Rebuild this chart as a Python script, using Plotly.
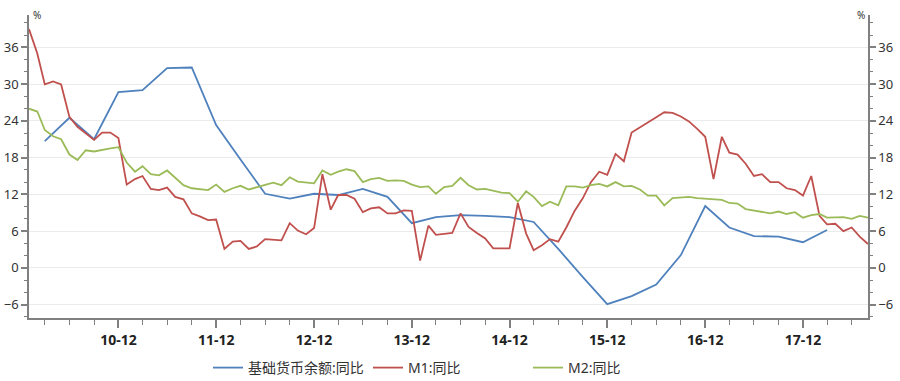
import pandas as pd
import plotly.graph_objects as go

# ---- data ----
months = pd.date_range("2010-01-01", periods=104, freq="MS")
quarters = pd.date_range("2010-03-01", periods=33, freq="3MS")

base_money = [
    20.7, 24.5, 21.0, 28.7,
    29.0, 32.6, 32.7, 23.3,
    17.7, 12.1, 11.3, 12.1,
    11.9, 12.9, 11.6, 7.3,
    8.3, 8.6, 8.5, 8.3,
    7.5, 3.1, -1.5, -5.9,
    -4.6, -2.7, 2.1, 10.1,
    6.6, 5.2, 5.1, 4.2,
    6.2,
]

m1 = [
    38.96, 34.99, 29.94, 30.42, 29.93, 24.64, 23.04, 21.92, 20.89, 22.08, 22.09, 21.19,
    13.6, 14.5, 15.0, 12.9, 12.7, 13.1, 11.6, 11.2, 8.9, 8.4, 7.8, 7.9,
    3.1, 4.3, 4.4, 3.1, 3.5, 4.7, 4.6, 4.5, 7.3, 6.1, 5.5, 6.5,
    15.3, 9.5, 11.9, 11.9, 11.3, 9.1, 9.7, 9.9, 8.9, 8.9, 9.4, 9.3,
    1.2, 6.9, 5.4, 5.5, 5.7, 8.9, 6.7, 5.7, 4.8, 3.2, 3.2, 3.2,
    10.6, 5.6, 2.9, 3.7, 4.7, 4.3, 6.6, 9.3, 11.4, 14.0, 15.7, 15.2,
    18.6, 17.4, 22.1, 22.9, 23.7, 24.6, 25.4, 25.3, 24.7, 23.9, 22.7, 21.4,
    14.5, 21.4, 18.8, 18.5, 17.0, 15.0, 15.3, 14.0, 14.0, 13.0, 12.7, 11.8,
    15.0, 8.5, 7.1, 7.2, 6.0, 6.6, 5.1, 3.9,
]

m2 = [
    25.98, 25.52, 22.5, 21.48, 21.0, 18.5, 17.6, 19.2, 19.0, 19.3, 19.5, 19.7,
    17.2, 15.7, 16.6, 15.3, 15.1, 15.9, 14.7, 13.5, 13.0, 12.9, 12.7, 13.6,
    12.4, 13.0, 13.4, 12.8, 13.2, 13.6, 13.9, 13.5, 14.8, 14.1, 13.9, 13.8,
    15.9, 15.2, 15.7, 16.1, 15.8, 14.0, 14.5, 14.7, 14.2, 14.3, 14.2, 13.6,
    13.2, 13.3, 12.1, 13.2, 13.4, 14.7, 13.5, 12.8, 12.9, 12.6, 12.3, 12.2,
    10.8, 12.5, 11.6, 10.1, 10.8, 10.2, 13.3, 13.3, 13.1, 13.5, 13.7, 13.3,
    14.0, 13.3, 13.4, 12.8, 11.8, 11.8, 10.2, 11.4, 11.5, 11.6, 11.4, 11.3,
    11.3, 11.1, 10.6, 10.5, 9.6, 9.4, 9.2, 8.9, 9.2, 8.8, 9.1, 8.2,
    8.6, 8.8, 8.2, 8.3, 8.3, 8.0, 8.5, 8.2,
]

tick_dates = [f"{y}-12-01" for y in range(2010, 2018)]
tick_labels = ["10-12", "11-12", "12-12", "13-12", "14-12", "15-12", "16-12", "17-12"]

series_names = ["基础货币余额:同比", "M1:同比", "M2:同比"]
colors = ["#4F81BD", "#C0504D", "#9BBB59"]

# ---- figure ----
fig = go.Figure()
fig.add_trace(go.Scatter(x=quarters, y=base_money, mode="lines", name=series_names[0],
                         line=dict(color=colors[0], width=1.8), legend="legend"))
fig.add_trace(go.Scatter(x=months, y=m1, mode="lines", name=series_names[1],
                         line=dict(color=colors[1], width=1.8), legend="legend2"))
fig.add_trace(go.Scatter(x=months, y=m2, mode="lines", name=series_names[2],
                         line=dict(color=colors[2], width=1.8), legend="legend3"))
# empty trace so the right-hand axis is drawn
fig.add_trace(go.Scatter(x=[months[0]], y=[None], yaxis="y2", showlegend=False,
                         hoverinfo="skip", mode="lines"))

yrange = [-8.17, 41.27]
axis_color = "#808080"
font_family = "Noto Sans, Noto Sans CJK SC, sans-serif"

yaxis_common = dict(
    range=yrange, tick0=0, dtick=6, tickmode="linear",
    showline=True, linecolor=axis_color, linewidth=1.5,
    ticks="outside", ticklen=6, tickwidth=1.5, tickcolor=axis_color,
    tickfont=dict(family=font_family, size=13, color="#333333"),
    minor=dict(ticks="outside", ticklen=3, tickwidth=1.2, tickcolor=axis_color,
               dtick=2, tick0=0, showgrid=False),
    zeroline=False, fixedrange=True, automargin=False,
)

legend_common = dict(
    orientation="h", xanchor="left", y=-0.165, yanchor="middle",
    font=dict(family=font_family, size=14, color="#333333"),
    bgcolor="rgba(0,0,0,0)",
)

fig.update_layout(
    width=900, height=381,
    margin=dict(l=29, r=32, t=15, b=63, autoexpand=False),
    paper_bgcolor="white", plot_bgcolor="white",
    font=dict(family=font_family, color="#333333"),
    xaxis=dict(
        type="date", range=["2010-01-01", "2018-08-01"],
        tickmode="array", tickvals=tick_dates, ticktext=tick_labels,
        tickfont=dict(family=font_family, size=14, color="#222222", weight="bold"),
        showline=True, linecolor=axis_color, linewidth=1.5,
        ticks="outside", ticklen=8, tickwidth=1.5, tickcolor=axis_color,
        minor=dict(ticks="outside", ticklen=5, tickwidth=1.2, tickcolor=axis_color,
                   dtick="M3", tick0="2010-03-01", showgrid=False),
        showgrid=False, zeroline=False, automargin=False,
    ),
    yaxis=dict(**yaxis_common, side="left", showgrid=True, gridcolor="#ebebeb", gridwidth=1),
    yaxis2=dict(**yaxis_common, side="right", overlaying="y", showgrid=False),
    legend=dict(**legend_common, x=(208 - 29) / 839),
    legend2=dict(**legend_common, x=(368 - 29) / 839),
    legend3=dict(**legend_common, x=(528 - 29) / 839),
    showlegend=True,
    annotations=[
        dict(text="%", xref="paper", yref="paper", x=0, y=1, xanchor="left", yanchor="middle",
             xshift=2, showarrow=False, font=dict(family=font_family, size=10, color="#333333")),
        dict(text="%", xref="paper", yref="paper", x=1, y=1, xanchor="right", yanchor="middle",
             xshift=-1, showarrow=False, font=dict(family=font_family, size=10, color="#333333")),
    ],
)

fig.write_html("out.html")
